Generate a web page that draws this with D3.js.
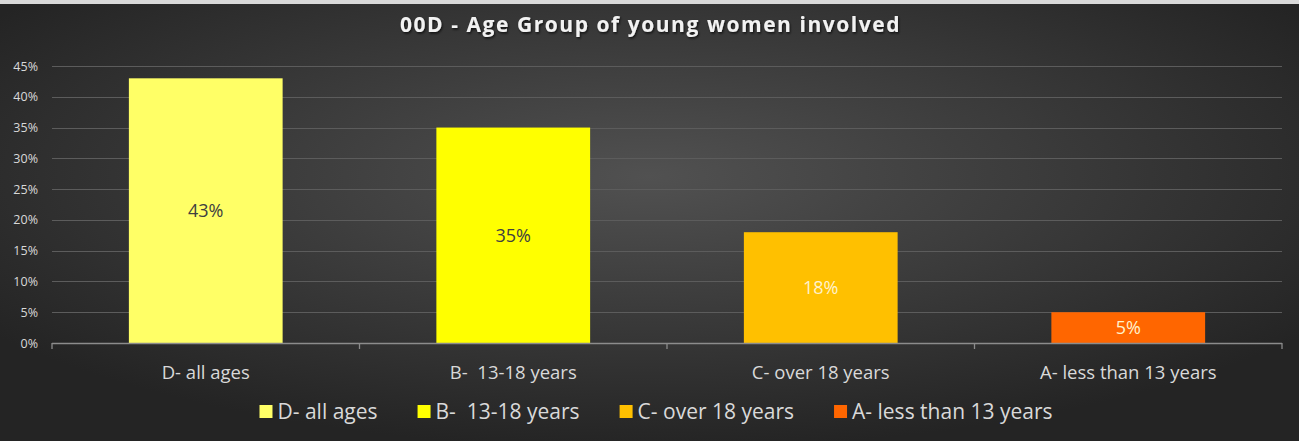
<!DOCTYPE html>
<html>
<head>
<meta charset="utf-8">
<script src="https://cdn.jsdelivr.net/npm/d3@7"></script>
<style>
  html, body { margin: 0; padding: 0; background: #ffffff; }
  svg { display: block; }
  svg text { white-space: pre; }
</style>
</head>
<body>
<div id="chart"></div>
<script>
// Chart data
const categories = ["D- all ages", "B-  13-18 years", "C- over 18 years", "A- less than 13 years"];
const values = [43, 35, 18, 5];
const barColors = ["#FFFF66", "#FFFF00", "#FFC000", "#FF6600"];
const labelColors = ["#404040", "#404040", "#FFF2CC", "#FFF2CC"];
const yTicks = [0, 5, 10, 15, 20, 25, 30, 35, 40, 45];
const title = "00D - Age Group of young women involved";

const W = 1299, H = 441;
const plot = { left: 52, right: 1282, top: 66, bottom: 343 };
const font = "'Open Sans', 'Noto Sans', sans-serif";

const svg = d3.select("#chart").append("svg")
  .attr("width", W).attr("height", H);

const defs = svg.append("defs");
const grad = defs.append("radialGradient")
  .attr("id", "bg").attr("cx", "50%").attr("cy", "40%").attr("r", "62%");
grad.append("stop").attr("offset", "0%").attr("stop-color", "#515151");
grad.append("stop").attr("offset", "100%").attr("stop-color", "#242424");

const shadow = defs.append("filter").attr("id", "shadow")
  .attr("x", "-5%").attr("y", "-30%").attr("width", "110%").attr("height", "160%");
shadow.append("feDropShadow").attr("dx", 1).attr("dy", 1.5)
  .attr("stdDeviation", 1).attr("flood-color", "#000").attr("flood-opacity", 0.7);

// Background with thin light strip along the top
svg.append("rect").attr("width", W).attr("height", H).attr("fill", "url(#bg)");
svg.append("rect").attr("width", W).attr("height", 4).attr("fill", "#d9d9d9");

// Scales
const x = d3.scaleBand().domain(categories)
  .range([plot.left, plot.right]).paddingInner(0.5).paddingOuter(0.25);
const y = d3.scaleLinear().domain([0, 45]).range([plot.bottom, plot.top]);

// Gridlines
svg.append("g").selectAll("line").data(yTicks.filter(d => d > 0)).join("line")
  .attr("x1", plot.left).attr("x2", plot.right)
  .attr("y1", d => Math.round(y(d)) + 0.5).attr("y2", d => Math.round(y(d)) + 0.5)
  .attr("stroke", "#5c5c5c").attr("stroke-width", 1);

// Y axis labels
const yAxis = d3.axisLeft(y).tickValues(yTicks).tickFormat(d => d + "%").tickSize(0).tickPadding(14);
const gy = svg.append("g").attr("transform", `translate(${plot.left},0)`).call(yAxis);
gy.select(".domain").remove();
gy.selectAll("text").attr("fill", "#d9d9d9").attr("font-family", font).attr("font-size", 12.5);

// Bars
svg.append("g").selectAll("rect").data(categories).join("rect")
  .attr("x", d => x(d))
  .attr("y", (d, i) => y(values[i]))
  .attr("width", x.bandwidth())
  .attr("height", (d, i) => y(0) - y(values[i]))
  .attr("fill", (d, i) => barColors[i]);

// Bar value labels, centred in each bar
svg.append("g").selectAll("text").data(categories).join("text")
  .attr("x", d => x(d) + x.bandwidth() / 2)
  .attr("y", (d, i) => (y(values[i]) + y(0)) / 2)
  .attr("dy", "0.35em")
  .attr("text-anchor", "middle")
  .attr("font-family", font).attr("font-size", 18)
  .attr("fill", (d, i) => labelColors[i])
  .text((d, i) => values[i] + "%");

// X axis line with ticks at category boundaries
const step = x.step();
const boundaries = d3.range(categories.length + 1).map(i => plot.left + i * step);
const gx = svg.append("g");
gx.append("line").attr("x1", plot.left).attr("x2", plot.right)
  .attr("y1", plot.bottom + 0.5).attr("y2", plot.bottom + 0.5)
  .attr("stroke", "#8c8c8c").attr("stroke-width", 1.3);
gx.selectAll(".tick").data(boundaries).join("line")
  .attr("x1", d => d).attr("x2", d => d)
  .attr("y1", plot.bottom).attr("y2", plot.bottom + 6)
  .attr("stroke", "#8c8c8c").attr("stroke-width", 1.3);

// Category labels
svg.append("g").selectAll("text").data(categories).join("text")
  .attr("x", d => x(d) + x.bandwidth() / 2)
  .attr("y", 379)
  .attr("text-anchor", "middle")
  .attr("font-family", font).attr("font-size", 18.5)
  .attr("fill", "#d9d9d9")
  .text(d => d);

// Title
svg.append("text")
  .attr("x", W / 2 + 1).attr("y", 32)
  .attr("text-anchor", "middle")
  .attr("font-family", font).attr("font-size", 21).attr("font-weight", "bold")
  .attr("letter-spacing", 1.55)
  .attr("fill", "#f2f2f2")
  .attr("filter", "url(#shadow)")
  .text(title);

// Legend, centred below the axis
const legend = svg.append("g");
const items = legend.selectAll("g").data(categories).join("g");
items.append("rect").attr("width", 13).attr("height", 13).attr("y", -14)
  .attr("fill", (d, i) => barColors[i]);
items.append("text").attr("x", 18).attr("y", 0)
  .attr("font-family", font).attr("font-size", 21)
  .attr("fill", "#d9d9d9").text(d => d);
let cursor = 0;
const gap = 40;
items.each(function () {
  const g = d3.select(this);
  g.attr("transform", `translate(${cursor},0)`);
  cursor += 18 + g.select("text").node().getComputedTextLength() + gap;
});
const legendWidth = cursor - gap;
legend.attr("transform", `translate(${656 - legendWidth / 2},419)`);
</script>
</body>
</html>
